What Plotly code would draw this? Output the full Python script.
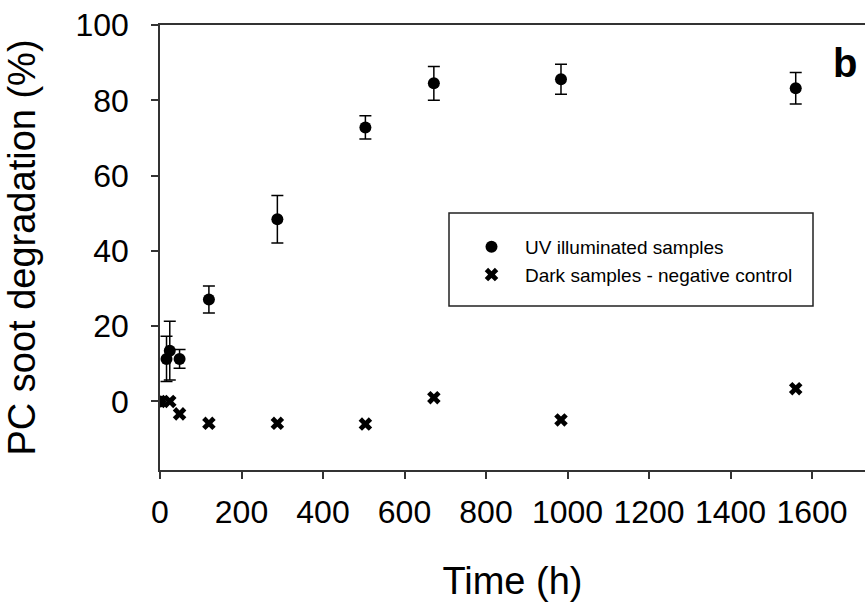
import plotly.graph_objects as go

# ---- data ----
uv_time = [0, 16, 24, 48, 120, 288, 504, 672, 984, 1560]
uv_deg = [0.0, 11.3, 13.5, 11.3, 27.1, 48.4, 72.8, 84.5, 85.6, 83.2]
uv_err = [0.0, 6.0, 7.8, 2.5, 3.6, 6.3, 3.1, 4.5, 4.0, 4.2]

dark_time = [0, 24, 48, 120, 288, 504, 672, 984, 1560]
dark_deg = [0.0, 0.0, -3.3, -5.8, -5.8, -6.0, 1.0, -4.9, 3.4]

x_ticks = [0, 200, 400, 600, 800, 1000, 1200, 1400, 1600]
y_ticks = [0, 20, 40, 60, 80, 100]

FONT = "Liberation Sans, Arial, sans-serif"
W, H = 865, 604
ML, MR, MT, MB = 160, 0, 25, 134
PW, PH = W - ML - MR, H - MT - MB


def px_x(p):
    return (p - ML) / PW


def px_y(p):
    return (H - MB - p) / PH


fig = go.Figure()
fig.add_trace(go.Scatter(
    x=uv_time, y=uv_deg, mode="markers", name="UV illuminated samples",
    marker=dict(symbol="circle", size=12, color="black"),
    error_y=dict(type="data", array=uv_err, visible=True, color="black",
                 thickness=1.5, width=6),
))
fig.add_trace(go.Scatter(
    x=dark_time, y=dark_deg, mode="markers", name="Dark samples - negative control",
    marker=dict(symbol="x", size=12, color="black"),
))

fig.update_layout(
    width=W, height=H,
    margin=dict(l=ML, r=MR, t=MT, b=MB, autoexpand=False),
    paper_bgcolor="white", plot_bgcolor="white",
    font=dict(family=FONT, color="black"),
    showlegend=True,
    legend=dict(
        x=px_x(458), y=px_y(228), xanchor="left", yanchor="top",
        bgcolor="rgba(0,0,0,0)", borderwidth=0,
        font=dict(size=19, family=FONT, color="black"),
        itemwidth=57,
        tracegroupgap=0,
    ),
    shapes=[dict(type="rect", xref="paper", yref="paper",
                 x0=px_x(449), x1=px_x(813), y0=px_y(306), y1=px_y(213),
                 line=dict(color="#222", width=1.5), fillcolor="rgba(0,0,0,0)")],
    annotations=[dict(text="<b>b</b>", xref="paper", yref="paper",
                      x=px_x(845), y=px_y(63), xanchor="center", yanchor="middle",
                      showarrow=False, font=dict(size=40, family=FONT, color="black"))],
)

fig.update_xaxes(
    range=[0, 1730], tickvals=x_ticks, ticktext=[str(v) for v in x_ticks],
    showgrid=False, zeroline=False,
    showline=True, linecolor="#333", linewidth=1.5, mirror=True,
    ticks="outside", ticklen=7, tickwidth=1.5, tickcolor="#333",
    tickfont=dict(size=32, family=FONT, color="black"),
    ticklabelstandoff=6,
    title=dict(text="Time (h)", font=dict(size=38, family=FONT, color="black"), standoff=38),
)
fig.update_yaxes(
    range=[-18.2, 100], tickvals=y_ticks, ticktext=[str(v) for v in y_ticks],
    showgrid=False, zeroline=False,
    showline=True, linecolor="#333", linewidth=1.5, mirror=False,
    ticks="outside", ticklen=7, tickwidth=1.5, tickcolor="#333",
    tickfont=dict(size=32, family=FONT, color="black"),
    ticklabelstandoff=16,
    title=dict(text="PC soot degradation (%)", font=dict(size=38, family=FONT, color="black"), standoff=28),
)

fig.write_html("out.html")
